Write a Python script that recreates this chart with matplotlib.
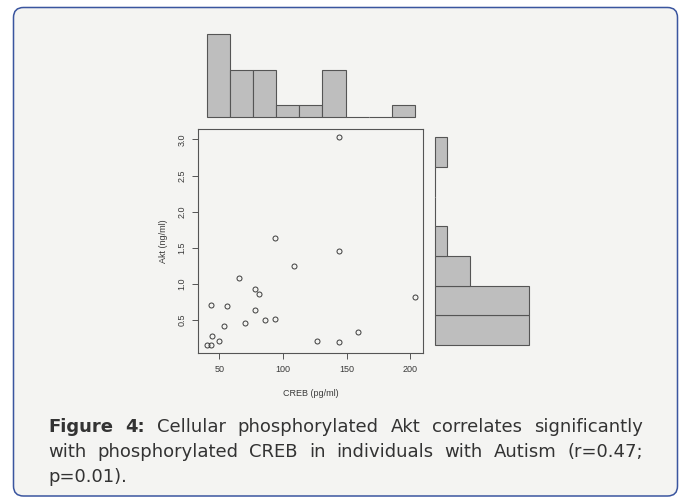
import numpy as np
import matplotlib
matplotlib.use("Agg")
import matplotlib.pyplot as plt
from matplotlib.patches import FancyBboxPatch
from matplotlib.transforms import IdentityTransform

# ---------------- data ----------------
creb = [143.75, 93.4, 143.75, 108.8, 65.3, 77.8, 80.9, 203.6, 43.2, 55.7, 77.8,
        70.3, 85.6, 93.4, 53.9, 44.2, 50.0, 40.1, 43.2, 127.0, 143.75, 159.0]
akt = [3.03, 1.643, 1.464, 1.248, 1.087, 0.932, 0.859, 0.826, 0.711, 0.702, 0.643,
       0.464, 0.50, 0.519, 0.413, 0.275, 0.212, 0.161, 0.157, 0.216, 0.202, 0.336]

creb_bins = ["40-60", "60-80", "80-100", "100-120", "120-140", "140-160",
             "160-180", "180-200", "200-220"]
creb_counts = [7, 4, 4, 1, 1, 4, 0, 0, 1]
akt_bins = ["0-0.5", "0.5-1.0", "1.0-1.5", "1.5-2.0", "2.0-2.5", "2.5-3.0", "3.0-3.5"]
akt_counts = [8, 8, 3, 1, 0, 0, 1]

x_ticks = [50, 100, 150, 200]
y_ticks = [0.5, 1.0, 1.5, 2.0, 2.5, 3.0]
x_label = "CREB (pg/ml)"
y_label = "Akt (ng/ml)"
caption_bold = "Figure 4:"
caption_text = ("Cellular phosphorylated Akt correlates significantly "
                "with phosphorylated CREB in individuals with Autism (r=0.47; p=0.01).")

# ---------------- figure ----------------
W, H = 683, 497
fig = plt.figure(figsize=(W / 100, H / 100), dpi=100, facecolor="white")

# rounded card
card = FancyBboxPatch((13.5, H - 496.0), 664.0, 488.5,
                      boxstyle="round,pad=0,rounding_size=10",
                      transform=IdentityTransform(), facecolor="#f4f4f2",
                      edgecolor="#3a559f", linewidth=1.1, zorder=0)
fig.add_artist(card)


def ax_px(l, t, r, b):
    return fig.add_axes([l / W, 1 - b / H, (r - l) / W, (b - t) / H])


font = "Liberation Sans"
cap_font = "DejaVu Sans"
spine_col = "#555555"
txt_col = "#3a3a3a"
bar_face = "#bebebe"
bar_edge = "#555555"

# ---------------- scatter ----------------
ax = ax_px(198.3, 129.0, 423.3, 353.3)
ax.patch.set_alpha(0)
ax.plot(creb, akt, linestyle="none", marker="o", ms=3.6, mfc="none",
        mec="#3c3c3c", mew=0.7)
ax.margins(0.04)
ax.set_xticks(x_ticks)
ax.set_xticklabels([str(v) for v in x_ticks], fontsize=6.5, family=font, color=txt_col)
ax.set_yticks(y_ticks)
ax.set_yticklabels([f"{v:.1f}" for v in y_ticks], fontsize=6.5, family=font,
                   color=txt_col, rotation=90, va="center")
ax.tick_params(length=4.3, width=0.7, color=spine_col, pad=4.2)
for s in ax.spines.values():
    s.set_color(spine_col)
    s.set_linewidth(0.8)

fig.text(310.8 / W, 1 - 393 / H, x_label, ha="center", va="center",
         fontsize=6.5, family=font, color=txt_col)
fig.text(164 / W, 1 - 241 / H, y_label, ha="center", va="center", rotation=90,
         fontsize=6.5, family=font, color=txt_col)

# ---------------- top histogram ----------------
axt = ax_px(198.3, 31.0, 423.3, 120.6)
axt.bar(np.arange(len(creb_counts)), creb_counts, width=1.0, align="edge",
        color=bar_face, edgecolor=bar_edge, linewidth=0.8)
axt.set_xlim(-0.36, len(creb_counts) + 0.36)
axt.set_ylim(-0.28, 7.28)
axt.axis("off")

# ---------------- side histogram ----------------
axs = ax_px(431.2, 129.0, 532.8, 353.3)
axs.barh(np.arange(len(akt_counts)), akt_counts, height=1.0, align="edge",
         color=bar_face, edgecolor=bar_edge, linewidth=0.8)
axs.set_ylim(-0.28, len(akt_counts) + 0.28)
axs.set_xlim(-0.32, 8.32)
axs.axis("off")

# ---------------- caption (justified) ----------------
cap_fs = 13.0
x0, x1 = 48.3, 643.0
words = [(w, "bold") for w in caption_bold.split()] + \
        [(w, "normal") for w in caption_text.split()]
lines = [words[:7], words[7:15], words[15:]]
baselines = [431.7, 456.7, 481.7]
renderer = fig.canvas.get_renderer()
for li, (line, yb) in enumerate(zip(lines, baselines)):
    texts = [fig.text(0, 1 - yb / H, w, fontsize=cap_fs, family=cap_font,
                      weight=wt, color="#333333", va="baseline", ha="left")
             for w, wt in line]
    widths = [t.get_window_extent(renderer).width for t in texts]
    if li < len(lines) - 1 and len(texts) > 1:
        gap = (x1 - x0 - sum(widths)) / (len(texts) - 1)
    else:
        sp = fig.text(0, 0, "a a", fontsize=cap_fs, family=cap_font)
        sp2 = fig.text(0, 0, "aa", fontsize=cap_fs, family=cap_font)
        gap = sp.get_window_extent(renderer).width - sp2.get_window_extent(renderer).width
        sp.remove(); sp2.remove()
    x = x0
    for t, w in zip(texts, widths):
        t.set_x(x / W)
        x += w + gap

fig.savefig("out.png", dpi=100, facecolor="white")
